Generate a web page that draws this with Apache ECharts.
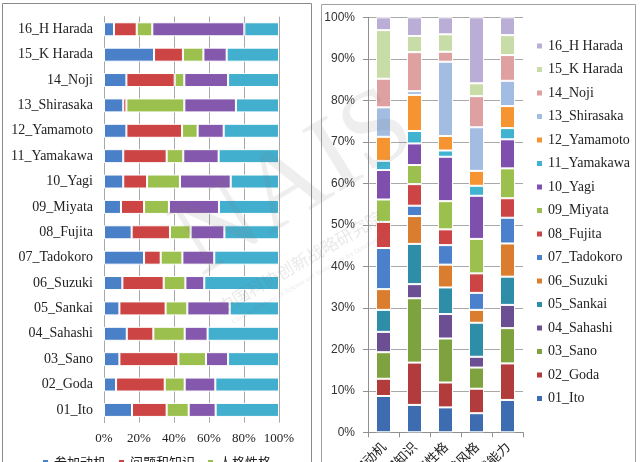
<!DOCTYPE html>
<html><head><meta charset="utf-8">
<script src="https://cdn.jsdelivr.net/npm/echarts@6/dist/echarts.min.js"></script>
<style>html,body{margin:0;padding:0;background:#fff}#c{width:640px;height:462px}</style>
</head><body><div id="c"></div>
<script>
// ---------- data ----------
const persons = ['01_Ito','02_Goda','03_Sano','04_Sahashi','05_Sankai','06_Suzuki','07_Tadokoro','08_Fujita',
  '09_Miyata','10_Yagi','11_Yamakawa','12_Yamamoto','13_Shirasaka','14_Noji','15_K Harada','16_H Harada'];
const traits = ['参加动机','问题和知识','人格性格','思维风格','实践能力'];
const leftTicks = ['0%','20%','40%','60%','80%','100%'];
const rightTicks = ['0%','10%','20%','30%','40%','50%','60%','70%','80%','90%','100%'];

// left chart: share of each trait per person (01..16)
const motive      = [16, 6.9, 8.8, 13, 8.8, 10.5, 22.9, 15.8, 9.7, 11, 11, 12.8, 11, 12.8, 28.6, 5.7];
const knowledge   = [19.8, 27.8, 33.7, 15.2, 26.4, 23.6, 9.5, 21.9, 13.2, 13.6, 24.8, 31.8, 1.8, 27.6, 16.5, 13];
const personality = [12.6, 11.4, 15.8, 17.9, 12.4, 12.4, 12.4, 11.8, 14.2, 18.8, 9.5, 8.9, 33.1, 5.5, 11.7, 8.9];
const style       = [15.4, 17.5, 12.6, 13.1, 24.2, 10.8, 18.2, 19.3, 28.6, 29, 20.2, 14.9, 29.5, 25, 13.3, 52.6];
const ability     = [36.2, 36.4, 29.1, 40.8, 28.2, 42.7, 37, 31.2, 34.3, 27.6, 34.5, 31.6, 24.6, 29.1, 29.9, 19.8];
const leftValues = [motive, knowledge, personality, style, ability];

// right chart: share of each person per trait
const p01 = [8.75, 6.6, 6.0, 4.6, 7.8];
const p02 = [4.15, 10.2, 6.0, 5.9, 8.8];
const p03 = [6.4, 15.5, 10.6, 5.1, 8.5];
const p04 = [4.9, 3.4, 5.9, 2.6, 5.6];
const p05 = [5.3, 9.7, 6.4, 8.2, 6.8];
const p06 = [5.0, 6.7, 5.5, 3.1, 8.0];
const p07 = [9.9, 2.5, 4.7, 4.1, 6.2];
const p08 = [6.3, 5.2, 3.8, 4.7, 4.7];
const p09 = [5.4, 4.6, 6.8, 8.3, 7.2];
const p10 = [7.1, 5.2, 10.7, 10.4, 7.0];
const p11 = [2.2, 3.0, 1.5, 2.4, 2.7];
const p12 = [5.8, 8.7, 3.5, 3.6, 5.3];
const p13 = [7.1, 0.9, 17.9, 10.5, 6.1];
const p14 = [6.9, 9.4, 2.4, 7.5, 6.2];
const p15 = [11.7, 3.9, 4.2, 3.1, 4.8];
const p16 = [3.1, 4.5, 4.1, 15.9, 4.3];
const rightValues = [p01,p02,p03,p04,p05,p06,p07,p08,p09,p10,p11,p12,p13,p14,p15,p16];

// ---------- styles ----------
const leftColors = ['#4a80c8','#cc4444','#9cc04e','#8459ad','#42afcf'];
const rightColors = ['#3d6cb0','#b23b3b','#7ea23d','#6b4f92','#2e8ea8','#da7d2e','#4a80cc','#cc4444',
  '#9cc04e','#7f4fae','#3fb3d0','#f79432','#a3bde2','#dea0a0','#c7dca6','#bbaed6'];
const serif = 'Liberation Serif';
const cjk = 'Noto Sans CJK SC';

const series = [];
traits.forEach((t, i) => series.push({
  name: t, type: 'bar', stack: 'left', xAxisIndex: 0, yAxisIndex: 0,
  data: leftValues[i], barWidth: 14,
  itemStyle: { color: leftColors[i], borderColor: '#fff', borderWidth: 1 }
}));
persons.forEach((p, i) => series.push({
  name: p, type: 'bar', stack: 'right', xAxisIndex: 1, yAxisIndex: 1,
  data: rightValues[i], barWidth: 15,
  itemStyle: { color: rightColors[i], borderColor: '#fff', borderWidth: 1 }
}));

const chart = echarts.init(document.getElementById('c'), null, { renderer: 'canvas' });
chart.setOption({
  animation: false,
  backgroundColor: '#fff',
  graphic: [
    { type: 'rect', shape: { x: 2.5, y: 3.5, width: 309, height: 470 }, style: { fill: 'none', stroke: '#8a8a8a', lineWidth: 1 }, z: -10 },
    { type: 'rect', shape: { x: 321.5, y: 4.5, width: 314, height: 470 }, style: { fill: 'none', stroke: '#a0a0a0', lineWidth: 1 }, z: -10 },
    { type: 'text', x: 295, y: 185, rotation: 0.55, z: 100,
      style: { text: 'NAIS', font: '110px Liberation Serif', fill: 'rgba(120,120,120,0.13)', align: 'center', verticalAlign: 'middle' } },
    { type: 'text', x: 300, y: 262, rotation: 0.52, z: 100,
      style: { text: '中国科协创新战略研究院', font: '17px Noto Sans CJK SC', fill: 'rgba(120,120,120,0.16)', align: 'center', verticalAlign: 'middle' } },
    { type: 'text', x: 310, y: 278, rotation: 0.52, z: 100,
      style: { text: 'Chinese Academy of Science and Technology for Development', font: '7px Liberation Serif', fill: 'rgba(120,120,120,0.16)', align: 'center', verticalAlign: 'middle' } }
  ],
  legend: [
    { data: traits, orient: 'horizontal', left: 36, top: 451, width: 262, itemWidth: 7, itemHeight: 7, itemGap: 11,
      icon: 'rect', textStyle: { fontFamily: cjk, fontSize: 13, color: '#222' } },
    { data: persons.slice().reverse(), orient: 'vertical', left: 530, top: 34, itemWidth: 7, itemHeight: 7, itemGap: 9.5,
      icon: 'rect', textStyle: { fontFamily: serif, fontSize: 14, lineHeight: 14, color: '#222' } }
  ],
  grid: [
    { left: 104, top: 16.6, width: 175, height: 406, containLabel: false, outerBoundsMode: 'none' },
    { left: 368, top: 17.3, width: 155, height: 415, containLabel: false, outerBoundsMode: 'none' }
  ],
  xAxis: [
    { type: 'value', gridIndex: 0, min: 0, max: 100, interval: 20,
      axisLine: { show: false }, axisTick: { show: false },
      splitLine: { lineStyle: { color: '#a8a8a8' } },
      axisLabel: { margin: 9, fontFamily: serif, fontSize: 13, color: '#222', formatter: v => leftTicks[Math.round(v / 20)] } },
    { type: 'category', gridIndex: 1, data: traits,
      axisLine: { lineStyle: { color: '#909090' } },
      axisTick: { show: true, length: 5, lineStyle: { color: '#909090' } },
      axisLabel: { interval: 0, rotate: 45, margin: 12, fontFamily: cjk, fontSize: 13, color: '#222' } }
  ],
  yAxis: [
    { type: 'category', gridIndex: 0, data: persons,
      axisLine: { show: true, lineStyle: { color: '#a8a8a8' } }, axisTick: { show: false },
      axisLabel: { margin: 11, fontFamily: serif, fontSize: 14, color: '#222' } },
    { type: 'value', gridIndex: 1, min: 0, max: 100, interval: 10,
      axisLine: { show: true, lineStyle: { color: '#909090' } },
      axisTick: { show: true, length: 5, lineStyle: { color: '#909090' } },
      splitLine: { lineStyle: { color: '#a8a8a8' } },
      axisLabel: { margin: 13, fontFamily: 'Liberation Sans', fontSize: 12, color: '#333', formatter: v => rightTicks[Math.round(v / 10)] } }
  ],
  series: series
});
</script>
</body></html>
